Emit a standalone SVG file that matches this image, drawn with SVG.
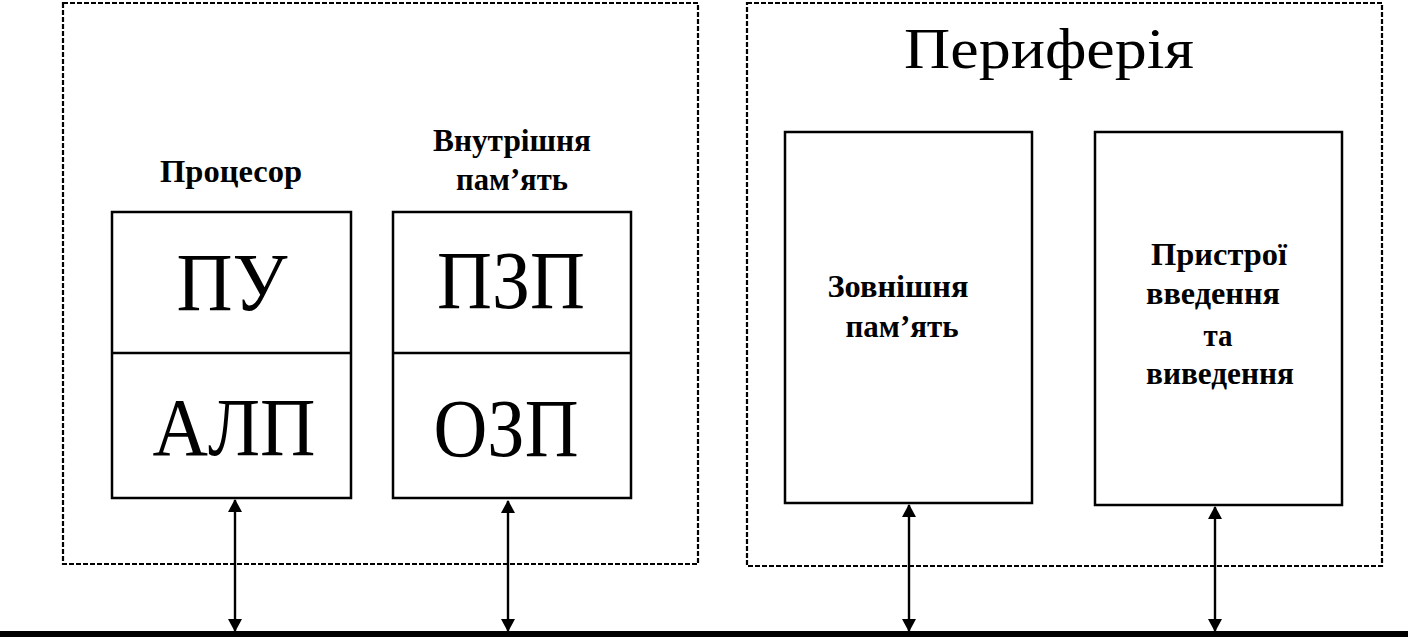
<svg xmlns="http://www.w3.org/2000/svg" width="1408" height="642" viewBox="0 0 1408 642">
<defs>
<marker id="ah" viewBox="0 0 13 14" refX="12" refY="7" markerWidth="13" markerHeight="14" markerUnits="userSpaceOnUse" orient="auto-start-reverse">
<path d="M0,0 L13,7 L0,14 z" fill="#000"/>
</marker>
</defs>
<style>
.dash{fill:none;stroke:#000;stroke-width:2.2;stroke-dasharray:5 2}
.box{fill:#fff;stroke:#000;stroke-width:2.5}
.big{font-family:"Liberation Serif",serif;font-size:82px;text-anchor:middle;fill:#000}
.lbl{font-family:"Liberation Serif",serif;font-weight:bold;font-size:31px;text-anchor:middle;fill:#000}
.ttl{font-family:"Liberation Serif",serif;font-size:58px;text-anchor:middle;fill:#000}
.con{stroke:#000;stroke-width:2.4;fill:none}
</style>
<rect width="1408" height="642" fill="#fff"/>
<g id="core">
<rect class="dash" x="63" y="3" width="635" height="561"/>
</g>
<g id="periphery">
<rect class="dash" x="747" y="3" width="635" height="563"/>
<text class="ttl" x="1049" y="68" textLength="290" lengthAdjust="spacingAndGlyphs">Периферія</text>
</g>
<g id="processor">
<text class="lbl" x="231" y="182" textLength="142" lengthAdjust="spacingAndGlyphs">Процесор</text>
<rect class="box" x="112" y="212" width="239" height="286"/>
<line x1="112" y1="353" x2="351" y2="353" stroke="#000" stroke-width="2.5"/>
<text class="big" x="232" y="310" textLength="111" lengthAdjust="spacingAndGlyphs">ПУ</text>
<text class="big" x="234" y="455" textLength="163" lengthAdjust="spacingAndGlyphs">АЛП</text>
</g>
<g id="internal-memory">
<text class="lbl" x="512" y="151" textLength="158" lengthAdjust="spacingAndGlyphs">Внутрішня</text>
<text class="lbl" x="512" y="190" textLength="112" lengthAdjust="spacingAndGlyphs">пам’ять</text>
<rect class="box" x="393" y="212" width="238" height="286"/>
<line x1="393" y1="353" x2="631" y2="353" stroke="#000" stroke-width="2.5"/>
<text class="big" x="511" y="308" textLength="148" lengthAdjust="spacingAndGlyphs">ПЗП</text>
<text class="big" x="506" y="456" textLength="145" lengthAdjust="spacingAndGlyphs">ОЗП</text>
</g>
<g id="external-memory">
<rect class="box" x="785" y="132" width="247" height="371"/>
<text class="lbl" x="898" y="297" textLength="141" lengthAdjust="spacingAndGlyphs">Зовнішня</text>
<text class="lbl" x="902" y="337" textLength="113" lengthAdjust="spacingAndGlyphs">пам’ять</text>
</g>
<g id="io-devices">
<rect class="box" x="1095" y="132" width="247" height="373"/>
<text class="lbl" x="1219" y="265" textLength="136" lengthAdjust="spacingAndGlyphs">Пристрої</text>
<text class="lbl" x="1213" y="304" textLength="134" lengthAdjust="spacingAndGlyphs">введення</text>
<text class="lbl" x="1218" y="346" textLength="29" lengthAdjust="spacingAndGlyphs">та</text>
<text class="lbl" x="1220" y="384" textLength="148" lengthAdjust="spacingAndGlyphs">виведення</text>
</g>
<g id="connectors">
<line x1="0" y1="634" x2="1408" y2="634" stroke="#000" stroke-width="6"/>
<line class="con" x1="235" y1="500" x2="235" y2="631" marker-start="url(#ah)" marker-end="url(#ah)"/>
<line class="con" x1="508" y1="501" x2="508" y2="631" marker-start="url(#ah)" marker-end="url(#ah)"/>
<line class="con" x1="909" y1="505" x2="909" y2="631" marker-start="url(#ah)" marker-end="url(#ah)"/>
<line class="con" x1="1215" y1="507" x2="1215" y2="631" marker-start="url(#ah)" marker-end="url(#ah)"/>
</g>
</svg>
